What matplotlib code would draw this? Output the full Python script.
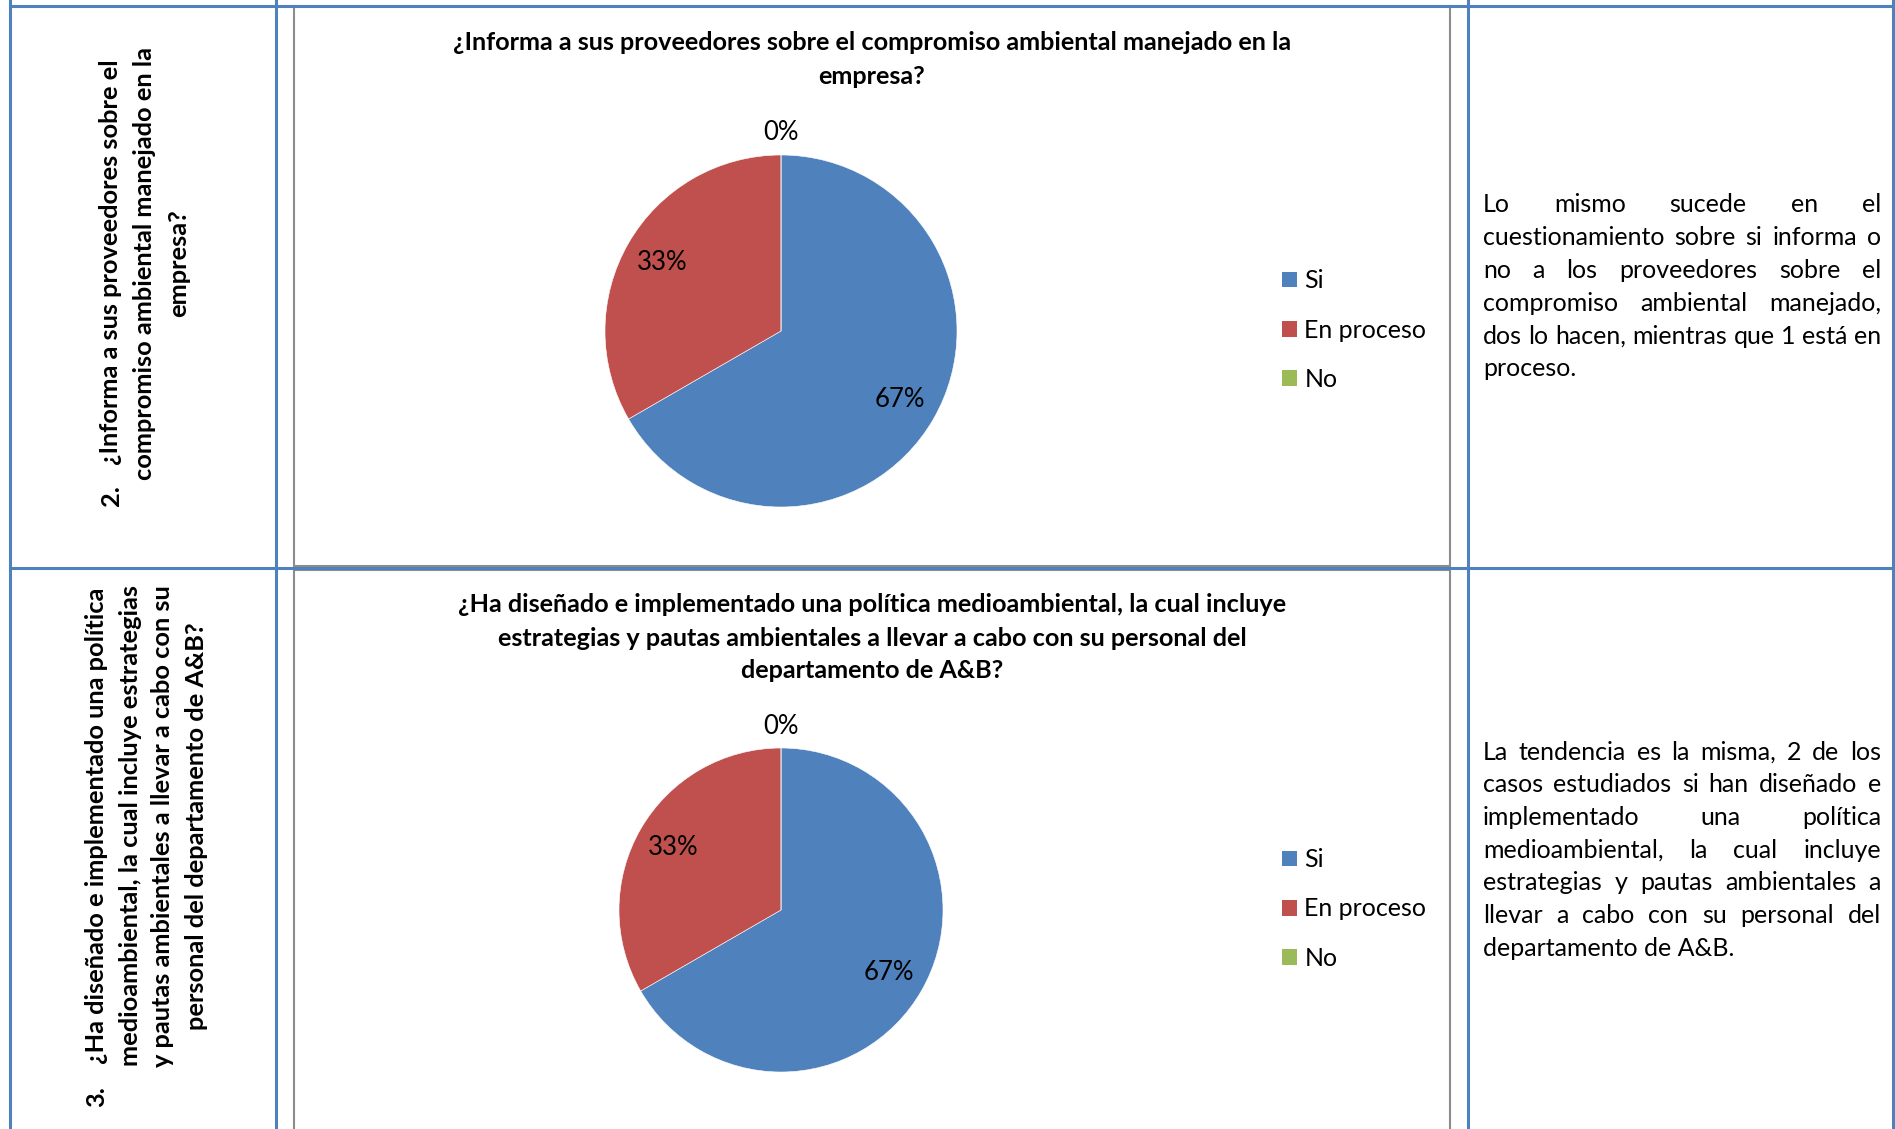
import matplotlib
matplotlib.use('Agg')
import matplotlib.pyplot as plt
from matplotlib.patches import Patch
import numpy as np

plt.rcParams['font.family'] = ['Lato', 'DejaVu Sans']

W, H = 1895, 1129

# datos de la encuesta
categorias = ['Si', 'En proceso', 'No']
colores = ['#4F81BD', '#C0504D', '#9BBB59']
respuestas_p2 = [2, 1, 0]
respuestas_p3 = [2, 1, 0]

titulo_p2 = ['¿Informa a sus proveedores sobre el compromiso ambiental manejado en la',
             'empresa?']
titulo_p3 = ['¿Ha diseñado e implementado una política medioambiental, la cual incluye',
             'estrategias y pautas ambientales a llevar a cabo con su personal del',
             'departamento de A&B?']

pregunta_p2 = ['¿Informa a sus proveedores sobre el',
               'compromiso ambiental manejado en la',
               'empresa?']
pregunta_p3 = ['¿Ha diseñado e implementado una política',
               'medioambiental, la cual incluye estrategias',
               'y pautas ambientales a llevar a cabo con su',
               'personal del departamento de A&B?']

comentario_p2 = ['Lo mismo sucede en el',
                 'cuestionamiento sobre si informa o',
                 'no a los proveedores sobre el',
                 'compromiso ambiental manejado,',
                 'dos lo hacen, mientras que 1 está en',
                 'proceso.']
comentario_p3 = ['La tendencia es la misma, 2 de los',
                 'casos estudiados si han diseñado e',
                 'implementado una política',
                 'medioambiental, la cual incluye',
                 'estrategias y pautas ambientales a',
                 'llevar a cabo con su personal del',
                 'departamento de A&B.']

AZUL_TABLA = '#4F81BD'
GRIS_MARCO = '#8C8C8C'
T_TEXTO = 18
T_TITULO = 18.2
T_PREG = 18.3

fig = plt.figure(figsize=(W / 100, H / 100), dpi=100)
bg = fig.add_axes([0, 0, 1, 1])
bg.set_xlim(0, W)
bg.set_ylim(H, 0)
bg.axis('off')
renderer = fig.canvas.get_renderer()

# tabla
for x in [10, 276, 1468, 1893]:
    bg.plot([x, x], [0, H], color=AZUL_TABLA, lw=2.2)
for y in [6, 568]:
    bg.plot([10, 1893], [y, y], color=AZUL_TABLA, lw=2.2)

# marcos de los graficos
bg.add_patch(plt.Rectangle((294, 6), 1156, 560, fill=False, ec=GRIS_MARCO, lw=1.5))
bg.add_patch(plt.Rectangle((294, 570), 1156, 600, fill=False, ec=GRIS_MARCO, lw=1.5))


def texto_justificado(lineas, x0, x1, y0, paso):
    for i, linea in enumerate(lineas):
        y = y0 + i * paso
        palabras = linea.split()
        if i == len(lineas) - 1 or len(palabras) == 1:
            bg.text(x0, y, linea, ha='left', va='center', fontsize=T_TEXTO)
            continue
        textos = [bg.text(0, y, p, ha='left', va='center', fontsize=T_TEXTO) for p in palabras]
        anchos = [t.get_window_extent(renderer).width for t in textos]
        hueco = (x1 - x0 - sum(anchos)) / (len(palabras) - 1)
        x = x0
        for t, a in zip(textos, anchos):
            t.set_x(x)
            x += a + hueco


def pregunta(numero, lineas, xs, yc, xnum, ynum, yinicio):
    bg.text(xnum, ynum, numero, rotation=90, ha='center', va='center',
            fontsize=T_PREG, fontweight='bold')
    # primera linea con sangria francesa: arranca tras el numero
    bg.text(xs[0], yinicio, lineas[0], rotation=90, ha='center', va='bottom',
            fontsize=T_PREG, fontweight='bold')
    for x, linea in zip(xs[1:], lineas[1:]):
        bg.text(x, yc, linea, rotation=90, ha='center', va='center',
                fontsize=T_PREG, fontweight='bold')


def grafico(valores, titulo, ys_titulo, cx, cy, r, yley, dist_pct):
    for y, linea in zip(ys_titulo, titulo):
        bg.text(872, y, linea, ha='center', va='center', fontsize=T_TITULO, fontweight='bold')
    ax = fig.add_axes([(cx - r) / W, 1 - (cy + r) / H, 2 * r / W, 2 * r / H])
    cunas, _, pcts = ax.pie(valores, colors=colores, startangle=90, counterclock=False,
                            autopct='%.0f%%', pctdistance=dist_pct,
                            wedgeprops=dict(edgecolor='white', linewidth=0.4),
                            textprops=dict(fontsize=18.5))
    ax.set_xlim(-1, 1)
    ax.set_ylim(-1, 1)
    for cuna, pct, v in zip(cunas, pcts, valores):
        if v == 0:
            ang = np.deg2rad(cuna.theta1)
            pct.set_position((1.13 * np.cos(ang), 1.13 * np.sin(ang)))
    manejadores = [Patch(facecolor=c) for c in colores]
    fig.legend(manejadores, categorias, loc='center left',
               bbox_to_anchor=(1282 / W, 1 - yley / H), frameon=False,
               fontsize=T_TEXTO, handlelength=0.6, handleheight=0.6,
               handletextpad=0.3, labelspacing=1.05, borderpad=0, borderaxespad=0)


pregunta('2.', pregunta_p2, [111, 145, 179], 263, 111, 496, 465)
pregunta('3.', pregunta_p3, [97, 130, 163, 197], 826, 97, 1097, 1064)

grafico(respuestas_p2, titulo_p2, [43, 76], 781, 331, 176, 330, 0.78)
grafico(respuestas_p3, titulo_p3, [605, 638, 671], 781, 910, 162, 909, 0.77)

texto_justificado(comentario_p2, 1483, 1881, 205, 32.8)
texto_justificado(comentario_p3, 1483, 1881, 752, 32.7)

fig.savefig('out.png', dpi=100)
